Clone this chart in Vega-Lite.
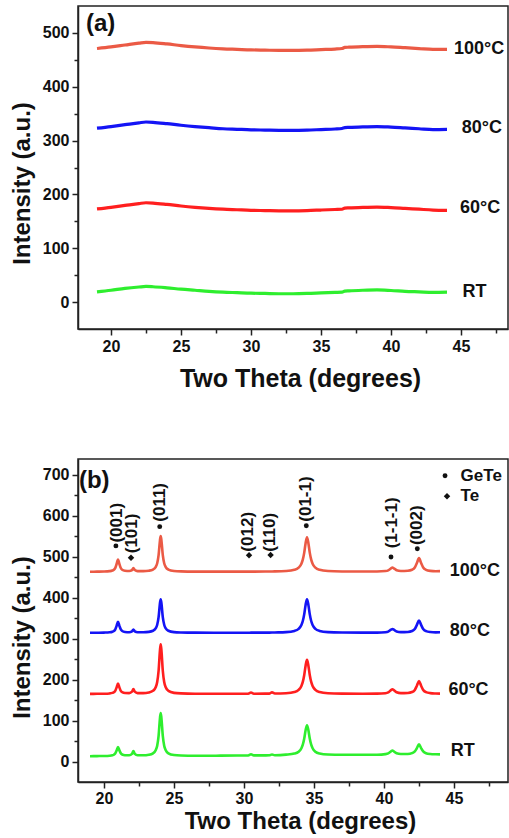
{
  "$schema": "https://vega.github.io/schema/vega-lite/v6.json",
  "background": "white",
  "padding": {"left": 9, "top": 5, "right": 0, "bottom": 0},
  "spacing": 66,
  "config": {
    "view": {"stroke": "#222", "strokeWidth": 1.5},
    "font": "Liberation Sans",
    "axis": {
      "grid": false,
      "domainColor": "#222",
      "domainWidth": 1.5,
      "tickColor": "#222",
      "tickWidth": 1.5,
      "labelFont": "Liberation Sans",
      "labelFontWeight": "bold",
      "labelFontSize": 16,
      "labelColor": "#111",
      "titleFont": "Liberation Sans",
      "titleFontWeight": "bold",
      "titleFontSize": 24,
      "titleColor": "#111"
    }
  },
  "datasets": {
    "lineA": [
      {"x":19,"y":471,"s":"100°C"},{"x":20,"y":474,"s":"100°C"},{"x":21,"y":477.5,"s":"100°C"},{"x":22,"y":481,"s":"100°C"},{"x":22.5,"y":482.5,"s":"100°C"},{"x":23,"y":482,"s":"100°C"},{"x":24,"y":479.5,"s":"100°C"},{"x":25,"y":476.5,"s":"100°C"},{"x":26,"y":474,"s":"100°C"},{"x":27,"y":472,"s":"100°C"},{"x":28,"y":470.5,"s":"100°C"},{"x":29,"y":469.5,"s":"100°C"},{"x":30,"y":468.5,"s":"100°C"},{"x":31,"y":468,"s":"100°C"},{"x":32,"y":467.5,"s":"100°C"},{"x":33,"y":467.5,"s":"100°C"},{"x":34,"y":468,"s":"100°C"},{"x":35,"y":469,"s":"100°C"},{"x":36,"y":470,"s":"100°C"},{"x":36.5,"y":471,"s":"100°C"},{"x":36.7,"y":473,"s":"100°C"},{"x":37,"y":473.5,"s":"100°C"},{"x":38,"y":474.5,"s":"100°C"},{"x":39,"y":475,"s":"100°C"},{"x":40,"y":474,"s":"100°C"},{"x":41,"y":472.5,"s":"100°C"},{"x":42,"y":471,"s":"100°C"},{"x":43,"y":469.5,"s":"100°C"},{"x":44,"y":469.5,"s":"100°C"},
      {"x":19,"y":323,"s":"80°C"},{"x":20,"y":326,"s":"80°C"},{"x":21,"y":329.5,"s":"80°C"},{"x":22,"y":333,"s":"80°C"},{"x":22.5,"y":334.5,"s":"80°C"},{"x":23,"y":334,"s":"80°C"},{"x":24,"y":331.5,"s":"80°C"},{"x":25,"y":328.5,"s":"80°C"},{"x":26,"y":326,"s":"80°C"},{"x":27,"y":324,"s":"80°C"},{"x":28,"y":322,"s":"80°C"},{"x":29,"y":321,"s":"80°C"},{"x":30,"y":320,"s":"80°C"},{"x":31,"y":319.5,"s":"80°C"},{"x":32,"y":319,"s":"80°C"},{"x":33,"y":319,"s":"80°C"},{"x":34,"y":319.5,"s":"80°C"},{"x":35,"y":320.5,"s":"80°C"},{"x":36,"y":321.5,"s":"80°C"},{"x":36.5,"y":322.5,"s":"80°C"},{"x":36.7,"y":324,"s":"80°C"},{"x":37,"y":324.5,"s":"80°C"},{"x":38,"y":325.5,"s":"80°C"},{"x":39,"y":326,"s":"80°C"},{"x":40,"y":325,"s":"80°C"},{"x":41,"y":323.5,"s":"80°C"},{"x":42,"y":322,"s":"80°C"},{"x":43,"y":320.5,"s":"80°C"},{"x":44,"y":321,"s":"80°C"},
      {"x":19,"y":173,"s":"60°C"},{"x":20,"y":176,"s":"60°C"},{"x":21,"y":179.5,"s":"60°C"},{"x":22,"y":183,"s":"60°C"},{"x":22.5,"y":184.5,"s":"60°C"},{"x":23,"y":184,"s":"60°C"},{"x":24,"y":181.5,"s":"60°C"},{"x":25,"y":178.5,"s":"60°C"},{"x":26,"y":176,"s":"60°C"},{"x":27,"y":174,"s":"60°C"},{"x":28,"y":172.5,"s":"60°C"},{"x":29,"y":171.5,"s":"60°C"},{"x":30,"y":170.5,"s":"60°C"},{"x":31,"y":170,"s":"60°C"},{"x":32,"y":169.5,"s":"60°C"},{"x":33,"y":169.5,"s":"60°C"},{"x":34,"y":170,"s":"60°C"},{"x":35,"y":171,"s":"60°C"},{"x":36,"y":172,"s":"60°C"},{"x":36.5,"y":172.5,"s":"60°C"},{"x":36.7,"y":174.5,"s":"60°C"},{"x":37,"y":175,"s":"60°C"},{"x":38,"y":176,"s":"60°C"},{"x":39,"y":176.5,"s":"60°C"},{"x":40,"y":175.5,"s":"60°C"},{"x":41,"y":174,"s":"60°C"},{"x":42,"y":172.5,"s":"60°C"},{"x":43,"y":171,"s":"60°C"},{"x":44,"y":170.5,"s":"60°C"},
      {"x":19,"y":19,"s":"RT"},{"x":20,"y":22,"s":"RT"},{"x":21,"y":25.5,"s":"RT"},{"x":22,"y":28,"s":"RT"},{"x":22.5,"y":29,"s":"RT"},{"x":23,"y":28.5,"s":"RT"},{"x":24,"y":26.5,"s":"RT"},{"x":25,"y":24,"s":"RT"},{"x":26,"y":22,"s":"RT"},{"x":27,"y":20,"s":"RT"},{"x":28,"y":18.5,"s":"RT"},{"x":29,"y":17.5,"s":"RT"},{"x":30,"y":16.5,"s":"RT"},{"x":31,"y":16,"s":"RT"},{"x":32,"y":15.5,"s":"RT"},{"x":33,"y":15.5,"s":"RT"},{"x":34,"y":16,"s":"RT"},{"x":35,"y":17,"s":"RT"},{"x":36,"y":18,"s":"RT"},{"x":36.5,"y":18.5,"s":"RT"},{"x":36.7,"y":20.5,"s":"RT"},{"x":37,"y":21,"s":"RT"},{"x":38,"y":22,"s":"RT"},{"x":39,"y":22.5,"s":"RT"},{"x":40,"y":21.5,"s":"RT"},{"x":41,"y":20,"s":"RT"},{"x":42,"y":19,"s":"RT"},{"x":43,"y":18,"s":"RT"},{"x":44,"y":18.5,"s":"RT"}
    ],
    "lineB": [
      {"x":19.0,"y":464,"s":"100°C"},{"x":19.5,"y":464.2,"s":"100°C"},{"x":20.0,"y":464.5,"s":"100°C"},{"x":20.4,"y":465.4,"s":"100°C"},{"x":20.6,"y":466.9,"s":"100°C"},{"x":20.7,"y":468.7,"s":"100°C"},{"x":20.8,"y":472.9,"s":"100°C"},{"x":20.9,"y":482.8,"s":"100°C"},{"x":21.0,"y":494,"s":"100°C"},{"x":21.1,"y":482.9,"s":"100°C"},{"x":21.2,"y":473.0,"s":"100°C"},{"x":21.3,"y":468.8,"s":"100°C"},{"x":21.5,"y":466.3,"s":"100°C"},{"x":21.8,"y":465.7,"s":"100°C"},{"x":22.0,"y":468.0,"s":"100°C"},{"x":22.1,"y":472.9,"s":"100°C"},{"x":22.2,"y":468.0,"s":"100°C"},{"x":22.4,"y":465.4,"s":"100°C"},{"x":22.8,"y":465.4,"s":"100°C"},{"x":23.2,"y":466.5,"s":"100°C"},{"x":23.5,"y":469.3,"s":"100°C"},{"x":23.7,"y":476.0,"s":"100°C"},{"x":23.8,"y":484.8,"s":"100°C"},{"x":23.9,"y":504.5,"s":"100°C"},{"x":24.0,"y":541.2,"s":"100°C"},{"x":24.05,"y":551,"s":"100°C"},{"x":24.1,"y":541.2,"s":"100°C"},{"x":24.2,"y":504.5,"s":"100°C"},{"x":24.3,"y":484.8,"s":"100°C"},{"x":24.4,"y":476.0,"s":"100°C"},{"x":24.6,"y":469.3,"s":"100°C"},{"x":25.0,"y":465.8,"s":"100°C"},{"x":25.5,"y":464.8,"s":"100°C"},{"x":26.5,"y":464.3,"s":"100°C"},{"x":28,"y":464.2,"s":"100°C"},{"x":29.5,"y":464.2,"s":"100°C"},{"x":30.3,"y":464.2,"s":"100°C"},{"x":30.5,"y":464.3,"s":"100°C"},{"x":30.7,"y":464.3,"s":"100°C"},{"x":31.5,"y":464.5,"s":"100°C"},{"x":31.8,"y":464.6,"s":"100°C"},{"x":32.0,"y":464.7,"s":"100°C"},{"x":32.2,"y":464.8,"s":"100°C"},{"x":33.0,"y":465.8,"s":"100°C"},{"x":33.6,"y":468.7,"s":"100°C"},{"x":33.9,"y":473.9,"s":"100°C"},{"x":34.1,"y":483.5,"s":"100°C"},{"x":34.2,"y":493.4,"s":"100°C"},{"x":34.3,"y":510.0,"s":"100°C"},{"x":34.4,"y":533.6,"s":"100°C"},{"x":34.5,"y":548,"s":"100°C"},{"x":34.6,"y":533.6,"s":"100°C"},{"x":34.7,"y":510.0,"s":"100°C"},{"x":34.8,"y":493.4,"s":"100°C"},{"x":34.9,"y":483.5,"s":"100°C"},{"x":35.1,"y":473.9,"s":"100°C"},{"x":35.4,"y":468.7,"s":"100°C"},{"x":36,"y":465.8,"s":"100°C"},{"x":37,"y":464.7,"s":"100°C"},{"x":38.5,"y":464.4,"s":"100°C"},{"x":39.5,"y":464.5,"s":"100°C"},{"x":40.1,"y":465.6,"s":"100°C"},{"x":40.3,"y":467.4,"s":"100°C"},{"x":40.5,"y":472.3,"s":"100°C"},{"x":40.6,"y":474.4,"s":"100°C"},{"x":40.7,"y":472.4,"s":"100°C"},{"x":40.9,"y":467.6,"s":"100°C"},{"x":41.2,"y":465.8,"s":"100°C"},{"x":41.7,"y":466.3,"s":"100°C"},{"x":42.0,"y":468.8,"s":"100°C"},{"x":42.2,"y":474.3,"s":"100°C"},{"x":42.35,"y":485.2,"s":"100°C"},{"x":42.5,"y":497.1,"s":"100°C"},{"x":42.65,"y":485.2,"s":"100°C"},{"x":42.8,"y":474.2,"s":"100°C"},{"x":43.0,"y":468.6,"s":"100°C"},{"x":43.3,"y":466.0,"s":"100°C"},{"x":43.7,"y":465.2,"s":"100°C"},{"x":44.0,"y":465.4,"s":"100°C"},
      {"x":19.0,"y":315,"s":"80°C"},{"x":19.5,"y":315.2,"s":"80°C"},{"x":20.0,"y":315.5,"s":"80°C"},{"x":20.4,"y":316.2,"s":"80°C"},{"x":20.6,"y":317.6,"s":"80°C"},{"x":20.7,"y":319.3,"s":"80°C"},{"x":20.8,"y":323.0,"s":"80°C"},{"x":20.9,"y":332.0,"s":"80°C"},{"x":21.0,"y":342,"s":"80°C"},{"x":21.1,"y":332.0,"s":"80°C"},{"x":21.2,"y":323.1,"s":"80°C"},{"x":21.3,"y":319.4,"s":"80°C"},{"x":21.5,"y":317.1,"s":"80°C"},{"x":21.8,"y":316.5,"s":"80°C"},{"x":22.0,"y":318.5,"s":"80°C"},{"x":22.1,"y":322.8,"s":"80°C"},{"x":22.2,"y":318.5,"s":"80°C"},{"x":22.4,"y":316.3,"s":"80°C"},{"x":22.8,"y":316.3,"s":"80°C"},{"x":23.2,"y":317.2,"s":"80°C"},{"x":23.5,"y":320.0,"s":"80°C"},{"x":23.7,"y":326.3,"s":"80°C"},{"x":23.8,"y":334.6,"s":"80°C"},{"x":23.9,"y":353.2,"s":"80°C"},{"x":24.0,"y":387.7,"s":"80°C"},{"x":24.05,"y":397,"s":"80°C"},{"x":24.1,"y":387.7,"s":"80°C"},{"x":24.2,"y":353.2,"s":"80°C"},{"x":24.3,"y":334.6,"s":"80°C"},{"x":24.4,"y":326.3,"s":"80°C"},{"x":24.6,"y":320.0,"s":"80°C"},{"x":25.0,"y":316.7,"s":"80°C"},{"x":25.5,"y":315.8,"s":"80°C"},{"x":26.5,"y":315.3,"s":"80°C"},{"x":28,"y":315.2,"s":"80°C"},{"x":29.5,"y":315.2,"s":"80°C"},{"x":30.3,"y":315.2,"s":"80°C"},{"x":30.5,"y":315.3,"s":"80°C"},{"x":30.7,"y":315.3,"s":"80°C"},{"x":31.5,"y":315.4,"s":"80°C"},{"x":31.8,"y":315.5,"s":"80°C"},{"x":32.0,"y":315.6,"s":"80°C"},{"x":32.2,"y":315.8,"s":"80°C"},{"x":33.0,"y":316.7,"s":"80°C"},{"x":33.6,"y":319.6,"s":"80°C"},{"x":33.9,"y":324.7,"s":"80°C"},{"x":34.1,"y":334.0,"s":"80°C"},{"x":34.2,"y":343.7,"s":"80°C"},{"x":34.3,"y":359.9,"s":"80°C"},{"x":34.4,"y":383.0,"s":"80°C"},{"x":34.5,"y":397,"s":"80°C"},{"x":34.6,"y":383.0,"s":"80°C"},{"x":34.7,"y":359.9,"s":"80°C"},{"x":34.8,"y":343.7,"s":"80°C"},{"x":34.9,"y":334.0,"s":"80°C"},{"x":35.1,"y":324.7,"s":"80°C"},{"x":35.4,"y":319.6,"s":"80°C"},{"x":36,"y":316.7,"s":"80°C"},{"x":37,"y":315.7,"s":"80°C"},{"x":38.5,"y":315.4,"s":"80°C"},{"x":39.5,"y":315.4,"s":"80°C"},{"x":40.1,"y":316.5,"s":"80°C"},{"x":40.3,"y":318.0,"s":"80°C"},{"x":40.5,"y":322.5,"s":"80°C"},{"x":40.6,"y":324.4,"s":"80°C"},{"x":40.7,"y":322.6,"s":"80°C"},{"x":40.9,"y":318.2,"s":"80°C"},{"x":41.2,"y":316.6,"s":"80°C"},{"x":41.7,"y":317.1,"s":"80°C"},{"x":42.0,"y":319.3,"s":"80°C"},{"x":42.2,"y":324.3,"s":"80°C"},{"x":42.35,"y":334.3,"s":"80°C"},{"x":42.5,"y":345.1,"s":"80°C"},{"x":42.65,"y":334.3,"s":"80°C"},{"x":42.8,"y":324.3,"s":"80°C"},{"x":43.0,"y":319.1,"s":"80°C"},{"x":43.3,"y":316.8,"s":"80°C"},{"x":43.7,"y":316.0,"s":"80°C"},{"x":44.0,"y":316.2,"s":"80°C"},
      {"x":19.0,"y":166,"s":"60°C"},{"x":19.5,"y":166.2,"s":"60°C"},{"x":20.0,"y":166.4,"s":"60°C"},{"x":20.4,"y":167.1,"s":"60°C"},{"x":20.6,"y":168.4,"s":"60°C"},{"x":20.7,"y":170.0,"s":"60°C"},{"x":20.8,"y":173.4,"s":"60°C"},{"x":20.9,"y":181.7,"s":"60°C"},{"x":21.0,"y":191,"s":"60°C"},{"x":21.1,"y":181.8,"s":"60°C"},{"x":21.2,"y":173.5,"s":"60°C"},{"x":21.3,"y":170.1,"s":"60°C"},{"x":21.5,"y":168.1,"s":"60°C"},{"x":21.8,"y":167.9,"s":"60°C"},{"x":22.0,"y":171.3,"s":"60°C"},{"x":22.1,"y":178.0,"s":"60°C"},{"x":22.2,"y":171.3,"s":"60°C"},{"x":22.4,"y":167.8,"s":"60°C"},{"x":22.8,"y":167.8,"s":"60°C"},{"x":23.2,"y":169.3,"s":"60°C"},{"x":23.5,"y":173.4,"s":"60°C"},{"x":23.7,"y":182.7,"s":"60°C"},{"x":23.8,"y":194.9,"s":"60°C"},{"x":23.9,"y":222.4,"s":"60°C"},{"x":24.0,"y":273.3,"s":"60°C"},{"x":24.05,"y":287,"s":"60°C"},{"x":24.1,"y":273.3,"s":"60°C"},{"x":24.2,"y":222.4,"s":"60°C"},{"x":24.3,"y":194.9,"s":"60°C"},{"x":24.4,"y":182.7,"s":"60°C"},{"x":24.6,"y":173.4,"s":"60°C"},{"x":25.0,"y":168.5,"s":"60°C"},{"x":25.5,"y":167.1,"s":"60°C"},{"x":26.5,"y":166.4,"s":"60°C"},{"x":28,"y":166.3,"s":"60°C"},{"x":29.5,"y":166.2,"s":"60°C"},{"x":30.3,"y":166.3,"s":"60°C"},{"x":30.5,"y":169.3,"s":"60°C"},{"x":30.7,"y":166.3,"s":"60°C"},{"x":31.5,"y":166.5,"s":"60°C"},{"x":31.8,"y":166.6,"s":"60°C"},{"x":32.0,"y":169.7,"s":"60°C"},{"x":32.2,"y":166.8,"s":"60°C"},{"x":33.0,"y":167.7,"s":"60°C"},{"x":33.6,"y":170.6,"s":"60°C"},{"x":33.9,"y":175.8,"s":"60°C"},{"x":34.1,"y":185.3,"s":"60°C"},{"x":34.2,"y":195.1,"s":"60°C"},{"x":34.3,"y":211.5,"s":"60°C"},{"x":34.4,"y":234.8,"s":"60°C"},{"x":34.5,"y":249,"s":"60°C"},{"x":34.6,"y":234.8,"s":"60°C"},{"x":34.7,"y":211.5,"s":"60°C"},{"x":34.8,"y":195.1,"s":"60°C"},{"x":34.9,"y":185.3,"s":"60°C"},{"x":35.1,"y":175.8,"s":"60°C"},{"x":35.4,"y":170.6,"s":"60°C"},{"x":36,"y":167.7,"s":"60°C"},{"x":37,"y":166.7,"s":"60°C"},{"x":38.5,"y":166.4,"s":"60°C"},{"x":39.5,"y":166.5,"s":"60°C"},{"x":40.1,"y":167.7,"s":"60°C"},{"x":40.3,"y":169.6,"s":"60°C"},{"x":40.5,"y":175.1,"s":"60°C"},{"x":40.6,"y":177.4,"s":"60°C"},{"x":40.7,"y":175.2,"s":"60°C"},{"x":40.9,"y":169.9,"s":"60°C"},{"x":41.2,"y":167.8,"s":"60°C"},{"x":41.7,"y":168.2,"s":"60°C"},{"x":42.0,"y":170.5,"s":"60°C"},{"x":42.2,"y":175.7,"s":"60°C"},{"x":42.35,"y":185.9,"s":"60°C"},{"x":42.5,"y":197.1,"s":"60°C"},{"x":42.65,"y":185.9,"s":"60°C"},{"x":42.8,"y":175.6,"s":"60°C"},{"x":43.0,"y":170.3,"s":"60°C"},{"x":43.3,"y":167.8,"s":"60°C"},{"x":43.7,"y":166.8,"s":"60°C"},{"x":44.0,"y":166.5,"s":"60°C"},
      {"x":19.0,"y":14,"s":"RT"},{"x":19.5,"y":14.2,"s":"RT"},{"x":20.0,"y":14.4,"s":"RT"},{"x":20.4,"y":15.0,"s":"RT"},{"x":20.6,"y":16.1,"s":"RT"},{"x":20.7,"y":17.5,"s":"RT"},{"x":20.8,"y":20.5,"s":"RT"},{"x":20.9,"y":27.8,"s":"RT"},{"x":21.0,"y":36.3,"s":"RT"},{"x":21.1,"y":28.2,"s":"RT"},{"x":21.2,"y":21.0,"s":"RT"},{"x":21.3,"y":18.0,"s":"RT"},{"x":21.5,"y":16.4,"s":"RT"},{"x":21.8,"y":16.3,"s":"RT"},{"x":22.0,"y":19.7,"s":"RT"},{"x":22.1,"y":26.4,"s":"RT"},{"x":22.2,"y":19.7,"s":"RT"},{"x":22.4,"y":16.2,"s":"RT"},{"x":22.8,"y":16.1,"s":"RT"},{"x":23.2,"y":17.4,"s":"RT"},{"x":23.5,"y":20.9,"s":"RT"},{"x":23.7,"y":29.0,"s":"RT"},{"x":23.8,"y":39.6,"s":"RT"},{"x":23.9,"y":63.4,"s":"RT"},{"x":24.0,"y":107.6,"s":"RT"},{"x":24.05,"y":119.5,"s":"RT"},{"x":24.1,"y":107.6,"s":"RT"},{"x":24.2,"y":63.4,"s":"RT"},{"x":24.3,"y":39.6,"s":"RT"},{"x":24.4,"y":29.0,"s":"RT"},{"x":24.6,"y":20.9,"s":"RT"},{"x":25.0,"y":16.7,"s":"RT"},{"x":25.5,"y":15.5,"s":"RT"},{"x":26.5,"y":15.0,"s":"RT"},{"x":28,"y":15.2,"s":"RT"},{"x":29.5,"y":15.5,"s":"RT"},{"x":30.3,"y":15.8,"s":"RT"},{"x":30.5,"y":18.8,"s":"RT"},{"x":30.7,"y":15.9,"s":"RT"},{"x":31.5,"y":16.0,"s":"RT"},{"x":31.8,"y":16.1,"s":"RT"},{"x":32.0,"y":18.2,"s":"RT"},{"x":32.2,"y":16.3,"s":"RT"},{"x":33.0,"y":17.8,"s":"RT"},{"x":33.6,"y":20.5,"s":"RT"},{"x":33.9,"y":25.0,"s":"RT"},{"x":34.1,"y":33.4,"s":"RT"},{"x":34.2,"y":42.1,"s":"RT"},{"x":34.3,"y":56.5,"s":"RT"},{"x":34.4,"y":77.0,"s":"RT"},{"x":34.5,"y":89.5,"s":"RT"},{"x":34.6,"y":77.0,"s":"RT"},{"x":34.7,"y":56.5,"s":"RT"},{"x":34.8,"y":42.1,"s":"RT"},{"x":34.9,"y":33.4,"s":"RT"},{"x":35.1,"y":25.0,"s":"RT"},{"x":35.4,"y":20.5,"s":"RT"},{"x":36,"y":18.0,"s":"RT"},{"x":37,"y":17.3,"s":"RT"},{"x":38.5,"y":17.3,"s":"RT"},{"x":39.5,"y":17.6,"s":"RT"},{"x":40.1,"y":19.0,"s":"RT"},{"x":40.3,"y":20.7,"s":"RT"},{"x":40.5,"y":25.7,"s":"RT"},{"x":40.6,"y":27.7,"s":"RT"},{"x":40.7,"y":25.8,"s":"RT"},{"x":40.9,"y":21.0,"s":"RT"},{"x":41.2,"y":19.2,"s":"RT"},{"x":41.7,"y":19.4,"s":"RT"},{"x":42.0,"y":21.4,"s":"RT"},{"x":42.2,"y":25.5,"s":"RT"},{"x":42.35,"y":33.8,"s":"RT"},{"x":42.5,"y":42.8,"s":"RT"},{"x":42.65,"y":33.8,"s":"RT"},{"x":42.8,"y":25.6,"s":"RT"},{"x":43.0,"y":21.2,"s":"RT"},{"x":43.3,"y":19.3,"s":"RT"},{"x":43.7,"y":18.6,"s":"RT"},{"x":44.0,"y":18.4,"s":"RT"}
    ],
    "labA": [
      {"x":44.5,"y":471,"t":"100°C"},{"x":45.05,"y":324,"t":"80°C"},{"x":44.93,"y":174,"t":"60°C"},{"x":45.1,"y":19,"t":"RT"}
    ],
    "labB": [
      {"x":44.69,"y":466,"t":"100°C"},{"x":44.69,"y":320,"t":"80°C"},{"x":44.6,"y":175,"t":"60°C"},{"x":44.76,"y":26,"t":"RT"}
    ],
    "peaks": [
      {"x":20.9,"y":535,"t":"(001)"},{"x":21.98,"y":509,"t":"(101)"},{"x":23.98,"y":586,"t":"(011)"},{"x":30.31,"y":513,"t":"(012)"},{"x":31.83,"y":513,"t":"(110)"},{"x":34.4,"y":586,"t":"(01-1)"},{"x":40.55,"y":521,"t":"(1-1-1)"},{"x":42.38,"y":529,"t":"(002)"}
    ],
    "syms": [
      {"x":20.85,"y":527,"p":"GeTe"},{"x":21.93,"y":498,"p":"Te"},{"x":23.98,"y":574,"p":"GeTe"},{"x":30.36,"y":504,"p":"Te"},{"x":31.9,"y":505,"p":"Te"},{"x":34.45,"y":576,"p":"GeTe"},{"x":40.5,"y":500,"p":"GeTe"},{"x":42.38,"y":520,"p":"GeTe"},
      {"x":44.36,"y":698,"p":"GeTe"},{"x":44.5,"y":648,"p":"Te"}
    ],
    "legendText": [
      {"x":45.47,"y":698,"t":"GeTe"},{"x":45.47,"y":648,"t":"Te"}
    ]
  },
  "vconcat": [
    {
      "width": 430,
      "height": 323,
      "encoding": {
        "x": {
          "field": "x", "type": "quantitative",
          "scale": {"domain": [17.643, 48.357], "nice": false, "zero": false},
          "axis": {
            "title": "Two Theta (degrees)",
            "titleFontSize": 25,
            "values": [20, 22.5, 25, 27.5, 30, 32.5, 35, 37.5, 40, 42.5, 45, 47.5],
            "labelExpr": "datum.value % 5 === 0 ? datum.label : ''",
            "tickSize": {"condition": {"test": "datum.value % 5 === 0", "value": 6}, "value": 4},
            "labelPadding": 3,
            "titlePadding": 12,
            "titleX": 222
          }
        },
        "y": {
          "field": "y", "type": "quantitative",
          "scale": {"domain": [-50, 550], "nice": false, "zero": false},
          "axis": {
            "title": "Intensity (a.u.)",
            "values": [0, 50, 100, 150, 200, 250, 300, 350, 400, 450, 500],
            "labelExpr": "datum.value % 100 === 0 ? datum.label : ''",
            "tickSize": {"condition": {"test": "datum.value % 100 === 0", "value": 6}, "value": 4},
            "labelPadding": 3,
            "titlePadding": 8,
            "titleY": 177
          }
        }
      },
      "layer": [
        {
          "data": {"name": "lineA"},
          "mark": {"type": "line", "strokeWidth": 3.2, "interpolate": "monotone"},
          "encoding": {
            "color": {"field": "s", "type": "nominal", "legend": null,
              "scale": {"domain": ["100°C", "80°C", "60°C", "RT"], "range": ["#EB5A45", "#1414F5", "#FF1F1F", "#2EEE2E"]}}
          }
        },
        {
          "data": {"name": "labA"},
          "mark": {"type": "text", "align": "left", "baseline": "middle", "fontSize": 18, "fontWeight": "bold", "font": "Liberation Sans", "color": "#111"},
          "encoding": {"text": {"field": "t", "type": "nominal"}}
        },
        {
          "data": {"values": [{"x": 18.21, "y": 517, "t": "(a)"}]},
          "mark": {"type": "text", "align": "left", "baseline": "middle", "fontSize": 24, "fontWeight": "bold", "font": "Liberation Sans", "color": "#111"},
          "encoding": {"text": {"field": "t", "type": "nominal"}}
        }
      ]
    },
    {
      "width": 430,
      "height": 323,
      "encoding": {
        "x": {
          "field": "x", "type": "quantitative",
          "scale": {"domain": [18.143, 48.857], "nice": false, "zero": false},
          "axis": {
            "title": "Two Theta (degrees)",
            "titleFontSize": 24,
            "values": [20, 22.5, 25, 27.5, 30, 32.5, 35, 37.5, 40, 42.5, 45, 47.5],
            "labelExpr": "datum.value % 5 === 0 ? datum.label : ''",
            "tickSize": {"condition": {"test": "datum.value % 5 === 0", "value": 6}, "value": 4},
            "labelPadding": 2,
            "titlePadding": 3,
            "titleX": 222
          }
        },
        "y": {
          "field": "y", "type": "quantitative",
          "scale": {"domain": [-49, 739], "nice": false, "zero": false},
          "axis": {
            "title": "Intensity (a.u.)",
            "values": [0, 50, 100, 150, 200, 250, 300, 350, 400, 450, 500, 550, 600, 650, 700],
            "labelExpr": "datum.value % 100 === 0 ? datum.label : ''",
            "tickSize": {"condition": {"test": "datum.value % 100 === 0", "value": 6}, "value": 4},
            "labelPadding": 3,
            "titlePadding": 8,
            "titleY": 178
          }
        }
      },
      "layer": [
        {
          "data": {"name": "lineB"},
          "mark": {"type": "line", "strokeWidth": 2.6, "interpolate": "monotone"},
          "encoding": {
            "color": {"field": "s", "type": "nominal", "legend": null,
              "scale": {"domain": ["100°C", "80°C", "60°C", "RT"], "range": ["#EB5A45", "#1414F5", "#FF1F1F", "#2EEE2E"]}}
          }
        },
        {
          "data": {"name": "peaks"},
          "mark": {"type": "text", "angle": 270, "align": "left", "baseline": "middle", "fontSize": 17, "fontWeight": "bold", "font": "Liberation Sans", "color": "#111"},
          "encoding": {"text": {"field": "t", "type": "nominal"}}
        },
        {
          "data": {"name": "syms"},
          "mark": {"type": "point", "filled": true, "color": "#111", "opacity": 1},
          "encoding": {
            "shape": {"field": "p", "type": "nominal", "legend": null,
              "scale": {"domain": ["GeTe", "Te"], "range": ["circle", "diamond"]}},
            "size": {"field": "p", "type": "nominal", "legend": null,
              "scale": {"domain": ["GeTe", "Te"], "range": [24, 42]}}
          }
        },
        {
          "data": {"name": "legendText"},
          "mark": {"type": "text", "align": "left", "baseline": "middle", "fontSize": 17, "fontWeight": "bold", "font": "Liberation Sans", "color": "#111"},
          "encoding": {"text": {"field": "t", "type": "nominal"}}
        },
        {
          "data": {"name": "labB"},
          "mark": {"type": "text", "align": "left", "baseline": "middle", "fontSize": 18, "fontWeight": "bold", "font": "Liberation Sans", "color": "#111"},
          "encoding": {"text": {"field": "t", "type": "nominal"}}
        },
        {
          "data": {"values": [{"x": 18.21, "y": 685, "t": "(b)"}]},
          "mark": {"type": "text", "align": "left", "baseline": "middle", "fontSize": 24, "fontWeight": "bold", "font": "Liberation Sans", "color": "#111"},
          "encoding": {"text": {"field": "t", "type": "nominal"}}
        }
      ]
    }
  ]
}
